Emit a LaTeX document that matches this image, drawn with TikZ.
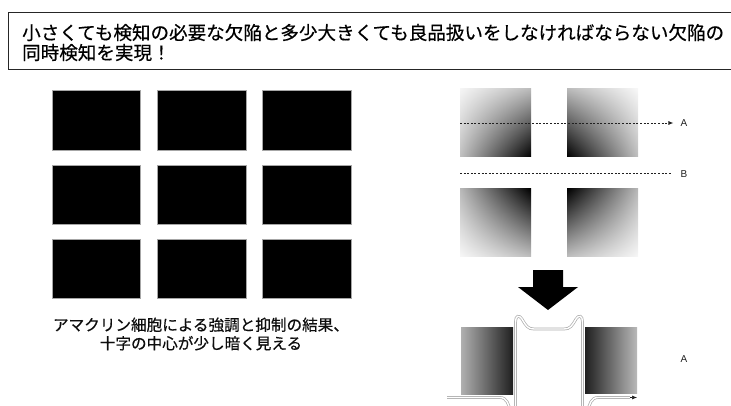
\documentclass[tikz,border=0pt]{standalone}
\usepackage{fontspec}
\setmainfont{Liberation Sans}
\newfontfamily\jp[FakeBold=0.5]{Noto Sans CJK JP}
\usetikzlibrary{arrows.meta,shadings}
\begin{document}
\begin{tikzpicture}[x=1pt,y=-1pt,
  blk/.style={fill=black,draw=gray!70,line width=0.5pt},
  dashline/.style={draw=gray!25!black,dash pattern=on 2pt off 1.6pt,line width=0.8pt},
  prof/.style={draw=gray!65,line width=0.7pt,double=white,double distance=1.4pt},
  lbl/.style={font=\fontsize{10}{11}\selectfont,text=gray!25!black,inner sep=0pt},
  titlebox/.style={draw=gray!30!black,line width=1pt},
  titletext/.style={font=\jp\fontsize{18.55}{20}\selectfont,align=left,inner sep=0pt,anchor=west},
  captext/.style={font=\jp\fontsize{15.6}{18.5}\selectfont,align=center,inner sep=0pt,text=gray!10!black}
]
\useasboundingbox (0,0) rectangle (731,406);
\clip (0,0) rectangle (731,406);

% title
\draw[titlebox] (760,13) -- (8,13) -- (8,70) -- (760,70);
\node[titletext] (title) at (22,42.5) {小さくても検知の必要な欠陥と多少大きくても良品扱いをしなければならない欠陥の\\同時検知を実現！};

% left grid of black rectangles
\foreach \x/\xx in {52/140,157/246,262/351}
  \foreach \y/\yy in {90/150,165/224,239/298}
    \draw[blk] (\x,\y) rectangle (\xx,\yy);

\node[captext] (cap) at (201,334) {アマクリン細胞による強調と抑制の結果、\\十字の中心が少し暗く見える};

% right: gradient squares
\shade[upper left=gray!8,upper right=gray!55,lower left=gray!50,lower right=black] (460,89) rectangle (531,157);
\shade[upper left=gray!55,upper right=gray!6,lower left=black,lower right=gray!50] (567,89) rectangle (638,157);
\shade[upper left=gray!55,upper right=black,lower left=gray!6,lower right=gray!50] (460,189) rectangle (531,257);
\shade[upper left=black,upper right=gray!55,lower left=gray!50,lower right=gray!6] (567,189) rectangle (638,257);

% dashed lines A and B
\node[lbl] (lA) at (684,123) {A};
\node[lbl] (lB) at (684,174) {B};
\coordinate (a0) at (460,123);
\coordinate (b0) at (460,173.5);
\draw[dashline,-{Latex[length=5pt,width=4pt]}] (a0) -- (lA.west) [shorten >=7pt];
\draw[dashline,shorten >=9pt] (b0) -- (b0 -| lB.west);

% big down arrow
\fill[black] (533,270) -- (563,270) -- (563,287) -- (578,287) -- (548,310) -- (518,287) -- (533,287) -- cycle;

% bottom gradient bars
\shade[left color=gray!62,right color=gray!25!black] (461,327) rectangle (513,394);
\shade[left color=gray!25!black,right color=gray!55] (585,327) rectangle (637,393.5);

% profile line
\coordinate (p0) at (447,397.5);
\coordinate (p1) at (630,397.5);
\coordinate (p2) at (637,397.5);
\draw[prof] (p0) -- (500,397.5) .. controls (507,397.5) and (509,405) .. (510,411)
  .. controls (511,416) and (515,416) .. (515.5,410) -- (515.5,322)
  .. controls (515.5,315.5) and (519,314.5) .. (522,319)
  .. controls (526,326) and (528,329) .. (534,329) -- (564,329)
  .. controls (570,329) and (572,326) .. (576,319)
  .. controls (579,314.5) and (582.5,315.5) .. (582.5,322) -- (582.5,410)
  .. controls (583,416) and (587,416) .. (588,411)
  .. controls (589,405) and (591,397.5) .. (598,397.5) -- (p1);
\draw[draw=gray!25!black,line width=0.6pt,-{Latex[length=5pt,width=4pt]}] (p1) -- (p2);
\node[lbl] (lA2) at (684,359) {A};
\end{tikzpicture}
\end{document}
